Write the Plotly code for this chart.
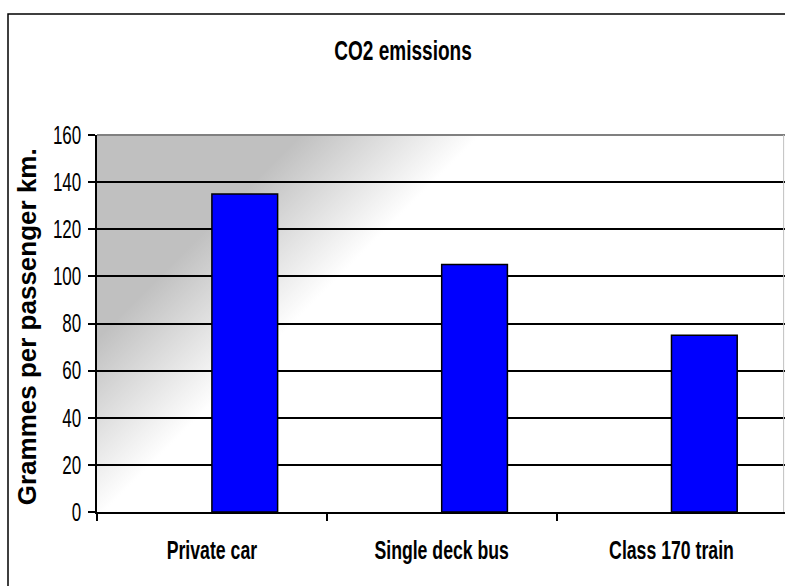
import base64
import plotly.graph_objects as go

# CO2 emissions by transport mode
categories = ["Private car", "Single deck bus", "Class 170 train"]
emissions = [135, 105, 75]
y_ticks = [0, 20, 40, 60, 80, 100, 120, 140, 160]

FONT = "Liberation Sans, Arial, sans-serif"

# diagonal grey-to-white fill for the plot area
svg = (
    '<svg xmlns="http://www.w3.org/2000/svg" width="688" height="377" '
    'viewBox="0 0 688 377" preserveAspectRatio="none">'
    '<defs><linearGradient id="g" gradientUnits="userSpaceOnUse" '
    'x1="0" y1="0" x2="192" y2="192">'
    '<stop offset="0" stop-color="#C0C0C0"/>'
    '<stop offset="0.53" stop-color="#C0C0C0"/>'
    '<stop offset="1" stop-color="#FFFFFF"/>'
    '</linearGradient></defs>'
    '<rect x="0" y="0" width="688" height="377" fill="url(#g)"/></svg>'
)
bg_src = "data:image/svg+xml;base64," + base64.b64encode(svg.encode()).decode()

fig = go.Figure(
    go.Bar(
        x=categories,
        y=emissions,
        offset=0,
        width=0.286,
        marker=dict(color="#0000FF", line=dict(color="#000000", width=1.5)),
        hoverinfo="x+y",
    )
)

fig.update_layout(
    width=785,
    height=586,
    margin=dict(l=97, r=0, t=135, b=74, autoexpand=False),
    paper_bgcolor="#FFFFFF",
    plot_bgcolor="rgba(0,0,0,0)",
    showlegend=False,
    title=dict(
        text="<b>CO2 emissions</b>",
        x=403 / 785,
        xanchor="center",
        y=1 - 50 / 586,
        yanchor="middle",
        font=dict(family=FONT, size=28, color="#000000"),
    ),
    images=[
        dict(
            source=bg_src,
            xref="paper",
            yref="paper",
            x=0,
            y=1,
            sizex=1,
            sizey=1,
            xanchor="left",
            yanchor="top",
            sizing="stretch",
            layer="below",
        )
    ],
    shapes=[
        # outer chart frame
        dict(type="rect", xref="paper", yref="paper",
             x0=(8 - 97) / 688, x1=1.2, y0=-0.5, y1=(511 - 13) / 377,
             line=dict(color="#000000", width=1.5), fillcolor="rgba(0,0,0,0)"),
        # plot-area border (top and right)
        dict(type="line", xref="paper", yref="paper", x0=0, x1=1, y0=1, y1=1,
             line=dict(color="#808080", width=2)),
        dict(type="line", xref="paper", yref="paper", x0=0.998, x1=0.998, y0=0, y1=1,
             line=dict(color="#C0C0C0", width=1)),
    ],
    annotations=[
        dict(
            text="<b>Grammes per passenger km.</b>",
            xref="paper",
            yref="paper",
            x=(27 - 97) / 688,
            y=0.49,
            xanchor="center",
            yanchor="middle",
            textangle=-90,
            showarrow=False,
            font=dict(family=FONT, size=26, color="#000000"),
        )
    ],
)

fig.update_xaxes(
    type="category",
    range=[-0.5, 2.494],
    tickson="boundaries",
    ticks="outside",
    ticklen=7,
    tickwidth=1.5,
    tickcolor="#000000",
    showline=True,
    linecolor="#000000",
    linewidth=2,
    showgrid=False,
    ticklabelstandoff=14,
    tickfont=dict(family=FONT, size=26, color="#000000"),
    tickprefix="<b>",
    ticksuffix="</b>",
    fixedrange=True,
)

fig.update_yaxes(
    range=[0, 160],
    tickmode="array",
    tickvals=y_ticks,
    ticktext=[str(v) for v in y_ticks],
    ticks="outside",
    ticklen=7,
    tickwidth=1.5,
    tickcolor="#000000",
    showline=True,
    linecolor="#000000",
    linewidth=1.5,
    showgrid=True,
    gridcolor="#000000",
    gridwidth=1.5,
    zeroline=False,
    ticklabelstandoff=2,
    tickfont=dict(family=FONT, size=25, color="#000000"),
    fixedrange=True,
)

# narrow the horizontal labels (title and tick labels) around their anchor points
condense_js = """
var gd = document.getElementById('{plot_id}');
function condense() {
  var nodes = gd.querySelectorAll('.gtitle, .xtick text, .ytick text');
  nodes.forEach(function (t) {
    var tr = t.getAttribute('transform') || '';
    if (tr.indexOf('scale(') !== -1) return;
    var x = parseFloat(t.getAttribute('x')) || 0;
    var y = parseFloat(t.getAttribute('y')) || 0;
    t.setAttribute('transform', tr + ' translate(' + x + ',' + y + ') scale(0.68,1) translate(' + (-x) + ',' + (-y) + ')');
  });
}
condense();
gd.on('plotly_afterplot', condense);
"""

fig.write_html("out.html", post_script=condense_js)
